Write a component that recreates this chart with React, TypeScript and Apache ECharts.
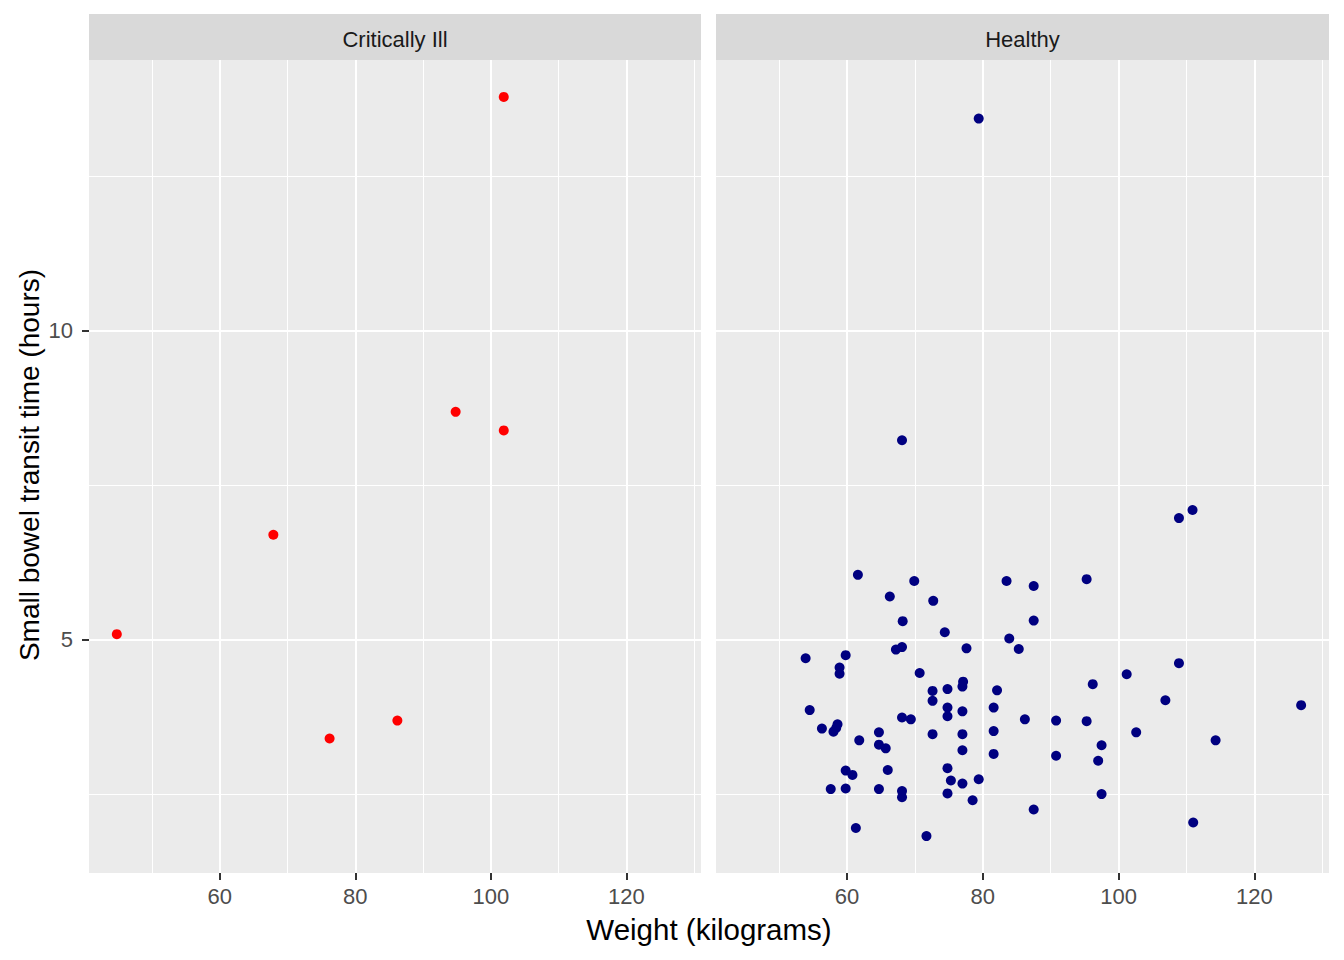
import React, { useEffect, useRef } from "react";
import * as echarts from "echarts";

const panels = ["Critically Ill", "Healthy"];

const illWeight = [101.9, 94.8, 101.9, 67.9, 44.8, 86.2, 76.2];
const illTransit = [13.79, 8.69, 8.39, 6.7, 5.09, 3.69, 3.4];

const healthyWeight = [
  79.4, 68.1, 110.9, 108.9, 61.6, 69.9, 66.3, 72.7, 68.2, 74.4,
  83.5, 83.9, 67.2, 68.1, 77.6, 53.9, 59.8, 58.9, 58.9, 70.7,
  72.6, 74.8, 77.1, 77.0, 82.1, 72.6, 74.8, 74.8, 77.0, 81.6,
  54.5, 56.3, 58.6, 58.4, 58.0, 61.8, 64.7, 68.1, 69.4, 64.7,
  65.7, 72.6, 77.0, 77.0, 81.6, 81.6, 59.8, 60.8, 66.0, 74.8,
  75.3, 77.0, 79.4, 57.6, 59.8, 64.7, 68.1, 68.1, 74.8, 78.5,
  61.3, 71.7, 87.5, 95.3, 87.5, 85.3, 108.9, 101.2, 96.2, 106.9,
  126.9, 86.2, 90.8, 95.3, 102.6, 114.3, 97.5, 90.8, 97.0, 97.5,
  87.5, 111.0,
];
const healthyTransit = [
  13.44, 8.23, 7.1, 6.97, 6.05, 5.95, 5.7, 5.63, 5.3, 5.12,
  5.95, 5.02, 4.84, 4.88, 4.86, 4.7, 4.75, 4.55, 4.45, 4.46,
  4.17, 4.2, 4.32, 4.24, 4.18, 4.01, 3.9, 3.76, 3.84, 3.9,
  3.86, 3.56, 3.63, 3.57, 3.51, 3.37, 3.5, 3.74, 3.71, 3.3,
  3.24, 3.47, 3.47, 3.21, 3.52, 3.15, 2.88, 2.81, 2.89, 2.92,
  2.72, 2.67, 2.74, 2.58, 2.59, 2.58, 2.55, 2.45, 2.51, 2.4,
  1.95, 1.82, 5.87, 5.98, 5.31, 4.85, 4.62, 4.44, 4.28, 4.02,
  3.94, 3.71, 3.69, 3.68, 3.5, 3.37, 3.29, 3.12, 3.04, 2.5,
  2.25, 2.04,
];

const xMajor = [60, 80, 100, 120];
const xMinor = [50, 70, 90, 110, 130];
const yMajor = [5, 10];
const yMinor = [2.5, 7.5, 12.5];

const xTitle = "Weight (kilograms)";
const yTitle = "Small bowel transit time (hours)";

const FONT = "'Liberation Sans', Arial, Helvetica, sans-serif";

function expand(values: number[]) {
  const lo = Math.min(...values);
  const hi = Math.max(...values);
  const pad = (hi - lo) * 0.05;
  return [lo - pad, hi + pad];
}

export default function App() {
  const ref = useRef<HTMLDivElement>(null);

  useEffect(() => {
    if (!ref.current) return;
    const chart = echarts.init(ref.current, null, { renderer: "svg" });

    const [xMin, xMax] = expand([...illWeight, ...healthyWeight]);
    const [yMin, yMax] = expand([...illTransit, ...healthyTransit]);

    const grids = [
      { left: 89, top: 60, width: 612, height: 813 },
      { left: 716, top: 60, width: 613, height: 813 },
    ];

    const gridLines = [
      ...xMinor.map((v) => ({ xAxis: v, lineStyle: { width: 1 } })),
      ...xMajor.map((v) => ({ xAxis: v, lineStyle: { width: 2 } })),
      ...yMinor.map((v) => ({ yAxis: v, lineStyle: { width: 1 } })),
      ...yMajor.map((v) => ({ yAxis: v, lineStyle: { width: 2 } })),
    ];

    const seriesData = [
      illWeight.map((w, i) => [w, illTransit[i]]),
      healthyWeight.map((w, i) => [w, healthyTransit[i]]),
    ];
    const colors = ["#FF0000", "#000080"];

    const option: any = {
      animation: false,
      backgroundColor: "#FFFFFF",
      textStyle: { fontFamily: FONT },
      grid: grids.map((g) => ({
        ...g,
        show: true,
        backgroundColor: "#EBEBEB",
        borderWidth: 0,
        containLabel: false,
      })),
      xAxis: grids.map((_, i) => ({
        type: "value",
        gridIndex: i,
        min: xMin,
        max: xMax,
        axisLine: { show: false },
        axisTick: {
          show: true,
          customValues: xMajor,
          length: 7,
          lineStyle: { color: "#333333", width: 2 },
        },
        axisLabel: {
          show: true,
          customValues: xMajor,
          fontSize: 22,
          color: "#4D4D4D",
          margin: 12,
          fontFamily: FONT,
        },
        splitLine: { show: false },
      })),
      yAxis: grids.map((_, i) => ({
        type: "value",
        gridIndex: i,
        min: yMin,
        max: yMax,
        axisLine: { show: false },
        axisTick: {
          show: i === 0,
          customValues: yMajor,
          length: 7,
          lineStyle: { color: "#333333", width: 2 },
        },
        axisLabel: {
          show: i === 0,
          customValues: yMajor,
          fontSize: 22,
          color: "#4D4D4D",
          margin: 16,
          fontFamily: FONT,
        },
        splitLine: { show: false },
      })),
      series: seriesData.map((data, i) => ({
        type: "scatter",
        name: panels[i],
        xAxisIndex: i,
        yAxisIndex: i,
        data,
        symbol: "circle",
        symbolSize: 10,
        z: 3,
        itemStyle: { color: colors[i], opacity: 1 },
        emphasis: { disabled: true },
        silent: true,
        markLine: {
          z: 1,
          silent: true,
          symbol: "none",
          label: { show: false },
          emphasis: { disabled: true },
          lineStyle: { color: "#FFFFFF", type: "solid" },
          data: gridLines,
        },
      })),
      graphic: [
        ...grids.map((g, i) => ({
          type: "group",
          children: [
            {
              type: "rect",
              shape: { x: g.left, y: 14, width: g.width, height: 46 },
              style: { fill: "#D9D9D9" },
            },
            {
              type: "text",
              x: g.left + g.width / 2,
              y: 39,
              style: {
                text: panels[i],
                fill: "#1A1A1A",
                font: `22px ${FONT}`,
                textAlign: "center",
                textVerticalAlign: "middle",
              },
            },
          ],
        })),
        {
          type: "text",
          x: 709,
          y: 929.5,
          style: {
            text: xTitle,
            fill: "#000000",
            font: `29.5px ${FONT}`,
            textAlign: "center",
            textVerticalAlign: "middle",
          },
        },
        {
          type: "text",
          x: 29,
          y: 465,
          rotation: Math.PI / 2,
          style: {
            text: yTitle,
            fill: "#000000",
            font: `28px ${FONT}`,
            textAlign: "center",
            textVerticalAlign: "middle",
          },
        },
      ],
    };

    chart.setOption(option);
    return () => chart.dispose();
  }, []);

  return (
    <div
      ref={ref}
      style={{ position: "fixed", left: 0, top: 0, width: 1344, height: 960 }}
    />
  );
}
